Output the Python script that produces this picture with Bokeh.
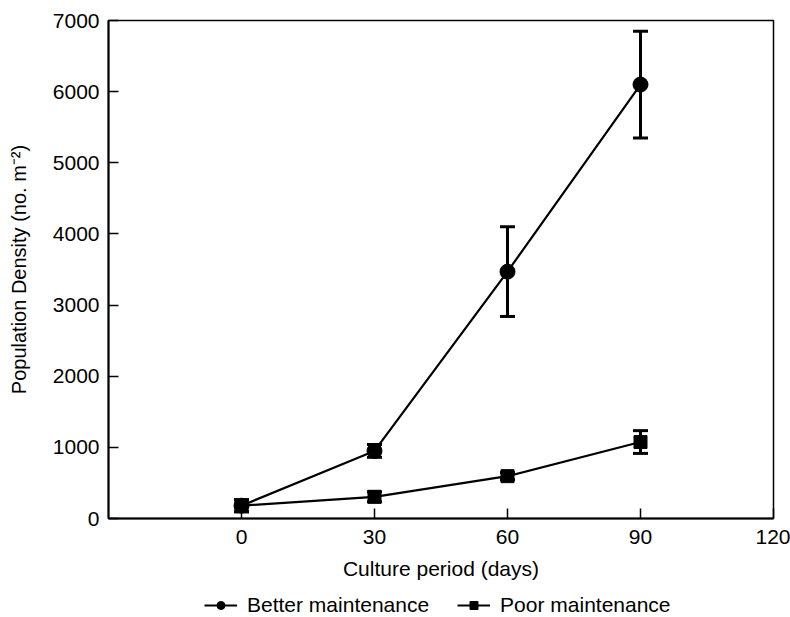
from bokeh.plotting import figure
from bokeh.layouts import column
from bokeh.models import FixedTicker, Whisker, TeeHead, ColumnDataSource, Legend, LegendItem, Range1d
from bokeh.embed import file_html
from bokeh.resources import INLINE

days = [0, 30, 60, 90]
better_mean = [180, 950, 3470, 6100]
better_err = [85, 90, 630, 750]
poor_mean = [180, 305, 595, 1075]
poor_err = [85, 70, 50, 160]
x_ticks = [0, 30, 60, 90, 120]
y_ticks = [0, 1000, 2000, 3000, 4000, 5000, 6000, 7000]
series_labels = ["Better maintenance", "Poor maintenance"]

FONT = "Liberation Sans"

p = figure(width=790, height=593, output_backend="svg", toolbar_location=None,
           x_range=Range1d(-30, 120), y_range=Range1d(0, 7000),
           min_border_left=108, min_border_right=17, min_border_top=20, min_border_bottom=75)
p.xgrid.visible = False
p.ygrid.visible = False
p.outline_line_color = "black"
p.outline_line_width = 1.5
p.background_fill_color = "white"
p.border_fill_color = "white"

for ax in (p.xaxis[0], p.yaxis[0]):
    ax.axis_line_width = 2
    ax.axis_line_color = "black"
    ax.major_tick_in = 10
    ax.major_tick_out = 0
    ax.major_tick_line_width = 1.5
    ax.minor_tick_line_color = None
    ax.major_label_text_font = FONT
    ax.major_label_text_font_size = "21px"
    ax.major_label_text_color = "black"
    ax.axis_label_text_font = FONT
    ax.axis_label_text_font_style = "normal"
    ax.axis_label_text_color = "black"

p.xaxis.axis_label_text_font_size = "21px"
p.yaxis.axis_label_text_font_size = "20px"
p.xaxis.ticker = FixedTicker(ticks=x_ticks)
p.yaxis.ticker = FixedTicker(ticks=y_ticks)
p.xaxis.axis_label = "Culture period (days)"
p.yaxis.axis_label = "Population Density (no. m\u207b\u00b2)"
p.xaxis.major_label_standoff = 11
p.yaxis.major_label_standoff = 9
p.xaxis.axis_label_standoff = 10
p.yaxis.axis_label_standoff = 20

src_b = ColumnDataSource(dict(x=days, y=better_mean,
                              lo=[m - e for m, e in zip(better_mean, better_err)],
                              hi=[m + e for m, e in zip(better_mean, better_err)]))
src_p = ColumnDataSource(dict(x=days, y=poor_mean,
                              lo=[m - e for m, e in zip(poor_mean, poor_err)],
                              hi=[m + e for m, e in zip(poor_mean, poor_err)]))

for src in (src_b, src_p):
    w = Whisker(source=src, base="x", upper="hi", lower="lo", dimension="height",
                line_width=3, line_color="black",
                upper_head=TeeHead(size=15, line_width=3, line_color="black"),
                lower_head=TeeHead(size=15, line_width=3, line_color="black"))
    p.add_layout(w)

p.line("x", "y", source=src_b, line_width=2.2, line_color="black")
p.scatter("x", "y", source=src_b, marker="circle", size=15, fill_color="black", line_color="black")
p.line("x", "y", source=src_p, line_width=2.2, line_color="black")
p.scatter("x", "y", source=src_p, marker="square", size=13, fill_color="black", line_color="black")

# legend strip below the chart (its renderers fall outside its own tiny range, so only the legend shows)
q = figure(width=790, height=24, output_backend="svg", toolbar_location=None,
           x_range=Range1d(1000, 1001), y_range=Range1d(100000, 100001), min_border=0,
           x_axis_type=None, y_axis_type=None)
q.xgrid.visible = False
q.ygrid.visible = False
q.outline_line_color = None
qlb = q.line("x", "y", source=src_b, line_width=2.2, line_color="black")
qmb = q.scatter("x", "y", source=src_b, marker="circle", size=11, fill_color="black", line_color="black")
qlp = q.line("x", "y", source=src_p, line_width=2.2, line_color="black")
qmp = q.scatter("x", "y", source=src_p, marker="square", size=10, fill_color="black", line_color="black")
legend = Legend(items=[LegendItem(label=series_labels[0], renderers=[qlb, qmb]),
                       LegendItem(label=series_labels[1], renderers=[qlp, qmp])],
                orientation="horizontal", location=(96, 0),
                label_text_font=FONT, label_text_font_size="21px", label_text_color="black",
                glyph_width=33, glyph_height=20, spacing=28, padding=0, margin=0,
                border_line_color=None, background_fill_alpha=0, label_standoff=10)
q.add_layout(legend, "center")

layout = column(p, q, spacing=0)
open("out.html", "w").write(file_html(layout, INLINE))
